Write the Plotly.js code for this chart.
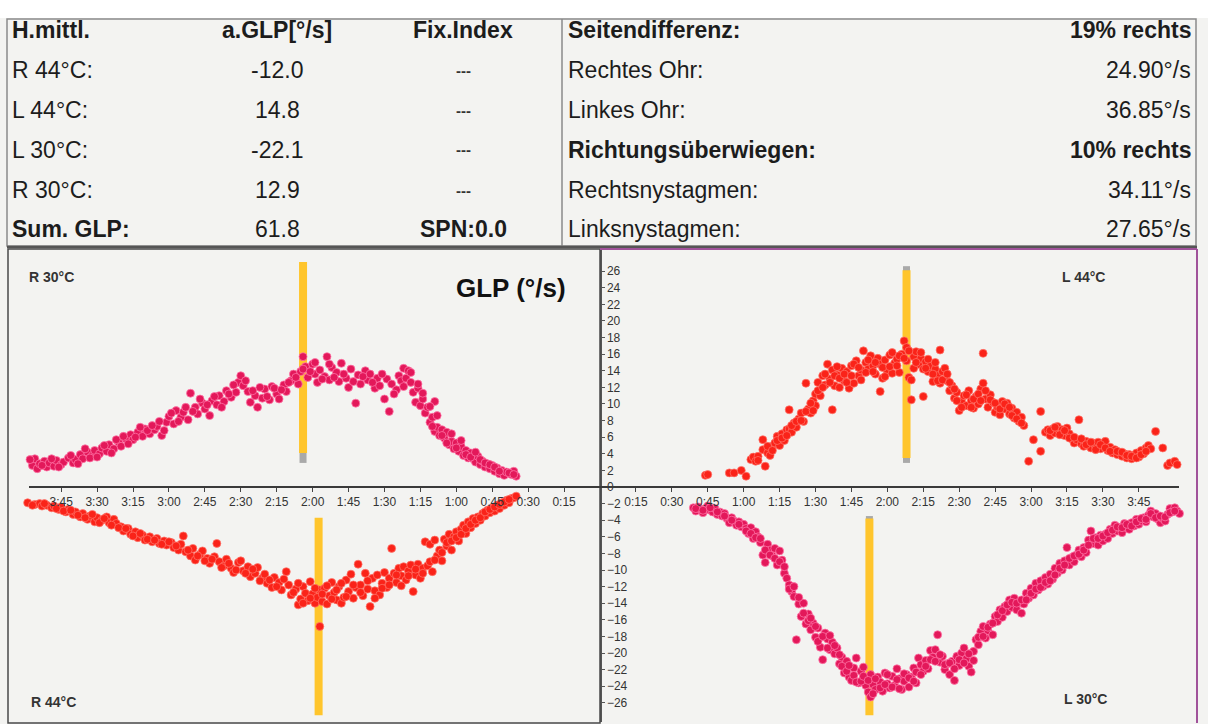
<!DOCTYPE html>
<html>
<head>
<meta charset="utf-8">
<script src="https://cdn.plot.ly/plotly-3.0.1.min.js"></script>
<style>
html,body{margin:0;padding:0;background:#f3f3f1;}
#chart{width:1208px;height:724px;}
</style>
</head>
<body>
<div id="chart"></div>
<script>
// ---------------- DATA ----------------
// Table (left block)
const leftCol1 = ["H.mittl.", "R 44°C:", "L 44°C:", "L 30°C:", "R 30°C:", "Sum. GLP:"];
const leftCol2 = ["a.GLP[°/s]", "-12.0", "14.8", "-22.1", "12.9", "61.8"];
const leftCol3 = ["Fix.Index", "---", "---", "---", "---", "SPN:0.0"];
// Table (right block)
const rightCol1 = ["Seitendifferenz:", "Rechtes Ohr:", "Linkes Ohr:", "Richtungsüberwiegen:", "Rechtsnystagmen:", "Linksnystagmen:"];
const rightCol2 = ["19% rechts", "24.90°/s", "36.85°/s", "10% rechts", "34.11°/s", "27.65°/s"];

// Axis ticks (time in seconds)
const xTickVals = [15, 30, 45, 60, 75, 90, 105, 120, 135, 150, 165, 180, 195, 210, 225];
const xTickText = ["0:15", "0:30", "0:45", "1:00", "1:15", "1:30", "1:45", "2:00", "2:15", "2:30", "2:45", "3:00", "3:15", "3:30", "3:45"];
const yTickVals = [-26, -24, -22, -20, -18, -16, -14, -12, -10, -8, -6, -4, -2, 0, 2, 4, 6, 8, 10, 12, 14, 16, 18, 20, 22, 24, 26];

// Panel labels
const panelNames = ["R 30°C", "L 44°C", "R 44°C", "L 30°C"];

// Fixation markers: time (s), top value, bottom value  [R30, R44, L44, L30]
const fixTime = [124, 117.5, 128, 112.5];
const fixTop = [27.1, -3.7, 26.1, -3.8];
const fixBottom = [4.1, -27.5, 3.5, -27.5];

// Slow-phase velocity points [time s, GLP °/s]
const r30Points = [[237,2.6],[236,3.4],[235,2.2],[234,2.8],[232,3.1],[231,2.4],[230,2.9],[228,2.5],[227,3.2],[225,2.7],[224,3.0],[222,3.5],[220,2.9],[219,3.3],[217,3.9],[216,3.4],[214,4.2],[212,3.8],[211,4.4],[209,4.0],[208,4.7],[206,4.3],[205,5.1],[203,4.6],[201,5.4],[200,4.9],[198,5.8],[196,6.3],[195,5.7],[193,6.6],[191,6.1],[190,7.0],[188,6.4],[186,6.9],[185,7.3],[183,6.2],[181,7.8],[180,8.5],[178,7.6],[177,9.2],[175,8.4],[174,9.0],[172,8.1],[171,11.3],[169,9.6],[168,8.8],[166,10.1],[165,9.4],[163,8.6],[162,10.4],[160,9.9],[159,11.0],[157,10.3],[156,11.6],[154,10.8],[152,11.4],[151,12.6],[150,13.4],[149,12.2],[147,11.5],[146,10.2],[144,11.0],[143,9.6],[141,10.7],[140,11.8],[138,10.5],[137,12.1],[135,11.2],[134,10.6],[132,12.3],[131,11.5],[129,12.8],[128,13.6],[126,12.4],[125,13.9],[124,15.7],[123,14.5],[122,13.2],[120,14.8],[119,13.6],[118,12.6],[117,14.1],[115,13.3],[114,15.7],[113,12.9],[112,14.4],[110,13.8],[109,12.7],[108,14.9],[106,13.1],[105,12.0],[104,14.2],[102,10.1],[101,13.5],[100,12.4],[98,14.0],[97,12.9],[96,13.6],[94,11.9],[93,13.1],[92,12.2],[90,10.6],[89,13.0],[88,9.1],[87,12.4],[85,11.7],[84,13.4],[83,12.8],[82,14.3],[81,13.1],[80,14.0],[79,12.6],[78,11.4],[77,10.2],[76,11.9],[75,9.8],[74,10.6],[73,8.9],[72,9.6],[71,7.8],[70,8.4],[69,6.7],[69,10.3],[68,7.2],[67,6.2],[66,6.9],[65,5.9],[64,6.6],[63,5.1],[62,5.5],[61,4.6],[60,5.3],[59,4.3],[58,4.9],[57,3.8],[56,4.4],[55,3.5],[54,4.1],[53,3.4],[52,3.0],[51,3.7],[50,2.7],[49,3.1],[48,2.4],[47,2.8],[46,2.2],[45,2.6],[44,1.9],[43,2.3],[42,1.6],[41,2.0],[40,1.4],[39,1.8],[37,1.5],[36,1.9],[35,1.3]];
const r30More = [[238,3.3],[233,2.6],[229,3.4],[226,2.4],[221,3.8],[218,2.8],[215,4.6],[213,3.5],[210,3.6],[207,5.0],[204,4.1],[202,5.7],[199,6.1],[197,5.2],[194,6.0],[192,7.2],[189,6.8],[187,7.4],[184,7.9],[182,6.8],[179,8.9],[176,7.9],[173,9.6],[170,9.1],[167,10.6],[164,9.9],[161,10.9],[158,9.6],[155,11.2],[153,12.3],[148,12.8],[145,11.6],[142,12.0],[139,10.9],[136,11.9],[133,11.7],[130,12.6],[127,13.2],[124,14.2],[121,13.9],[119,15.0],[116,13.0],[113,14.8],[111,13.2],[107,13.6],[103,12.7],[99,13.3],[95,12.6],[91,13.6],[86,11.2],[82,12.1],[79,13.8],[76,12.4],[74,11.3],[71,9.7],[70,7.3],[68,8.6],[66,6.2],[64,5.3],[62,6.4],[60,4.7],[58,5.6],[56,3.9],[54,3.6],[52,4.2],[50,3.3],[48,2.9],[46,2.7],[44,2.4],[42,1.9],[38,1.7],[36,1.5]];

const r44Points = [[239,-1.9],[236,-2.1],[234,-2.0],[233,-2.3],[231,-2.2],[229,-2.5],[228,-2.3],[226,-2.7],[225,-2.4],[223,-3.0],[222,-2.7],[220,-3.3],[219,-3.0],[217,-3.6],[216,-3.2],[214,-3.9],[213,-3.5],[211,-4.2],[210,-3.7],[208,-4.0],[206,-3.6],[205,-4.3],[203,-3.9],[202,-4.4],[200,-4.8],[199,-5.3],[197,-5.0],[196,-5.7],[194,-5.4],[193,-6.1],[191,-5.8],[190,-6.4],[188,-6.0],[187,-6.6],[185,-6.2],[184,-6.8],[182,-6.5],[181,-7.0],[179,-6.7],[178,-7.3],[176,-7.6],[175,-6.9],[174,-5.9],[173,-7.8],[171,-8.3],[170,-7.4],[169,-8.8],[167,-8.1],[166,-7.7],[164,-8.6],[163,-9.2],[161,-8.4],[160,-6.8],[159,-9.0],[157,-9.5],[156,-8.7],[154,-9.8],[153,-10.3],[151,-9.1],[150,-8.9],[149,-10.1],[147,-9.6],[146,-10.8],[144,-10.4],[143,-9.7],[141,-11.0],[140,-10.5],[139,-11.6],[137,-12.1],[136,-10.9],[134,-11.5],[133,-12.4],[131,-10.2],[130,-11.8],[129,-13.0],[127,-12.3],[126,-14.2],[125,-13.5],[124,-12.0],[123,-12.8],[122,-13.7],[121,-11.4],[120,-12.9],[119,-14.0],[118,-13.3],[117,-16.8],[117,-12.4],[116,-13.8],[115,-12.2],[114,-14.1],[113,-13.1],[112,-11.5],[111,-12.7],[110,-13.6],[109,-12.0],[108,-14.0],[107,-13.3],[106,-11.2],[105,-12.6],[104,-10.5],[103,-13.4],[102,-12.1],[101,-9.3],[100,-11.8],[99,-13.1],[98,-10.4],[97,-12.3],[96,-14.4],[95,-11.0],[94,-12.5],[93,-10.6],[92,-13.0],[91,-11.6],[90,-10.3],[89,-12.1],[88,-11.0],[87,-7.4],[86,-10.4],[85,-11.5],[84,-9.8],[83,-10.7],[82,-9.6],[81,-11.2],[80,-10.1],[79,-9.4],[78,-12.6],[77,-10.6],[76,-9.3],[75,-11.0],[74,-9.8],[73,-6.6],[72,-9.5],[71,-6.9],[70,-10.2],[69,-6.4],[68,-8.3],[67,-7.6],[66,-8.9],[65,-6.3],[64,-7.1],[63,-5.7],[62,-7.6],[61,-6.0],[60,-5.4],[59,-6.5],[58,-5.1],[57,-4.6],[56,-5.6],[55,-4.2],[54,-4.9],[53,-3.8],[52,-4.4],[51,-3.6],[50,-4.0],[49,-3.2],[48,-3.5],[47,-2.8],[46,-3.1],[45,-2.5],[44,-2.9],[43,-2.2],[42,-2.6],[41,-1.9],[40,-2.2],[39,-1.6],[38,-1.9],[37,-1.4],[36,-1.3],[35,-1.1]];
const r44More = [[237,-2.2],[232,-2.0],[227,-2.6],[224,-2.9],[221,-2.8],[218,-3.4],[215,-3.7],[212,-3.3],[209,-4.3],[207,-3.8],[204,-4.6],[201,-4.9],[198,-5.0],[195,-5.9],[192,-5.6],[189,-6.3],[186,-6.4],[183,-6.9],[180,-6.6],[177,-7.1],[172,-7.6],[168,-8.3],[165,-8.9],[162,-8.7],[158,-9.7],[155,-9.2],[152,-10.0],[148,-10.4],[145,-9.9],[142,-11.3],[138,-11.2],[135,-12.0],[132,-11.1],[128,-12.7],[126,-11.6],[124,-14.0],[121,-13.4],[119,-12.2],[116,-12.9],[114,-11.9],[112,-13.5],[110,-12.4],[108,-11.6],[106,-13.2],[103,-11.8],[100,-12.7],[97,-11.3],[94,-13.4],[91,-12.2],[88,-11.8],[85,-10.6],[83,-11.9],[80,-10.7],[77,-9.9],[74,-10.4],[71,-9.0],[69,-8.8],[66,-7.9],[64,-6.7],[62,-6.5],[60,-6.1],[58,-5.7],[56,-5.0],[54,-4.5],[52,-4.0],[50,-3.7],[48,-3.0],[46,-2.7],[44,-2.4],[42,-2.1],[40,-1.8],[38,-1.5]];

const l44Points = [[44,1.4],[45,1.5],[54,1.7],[56,1.7],[59,2.0],[61,1.3],[63,3.3],[64,3.6],[65,3.1],[66,3.7],[68,5.7],[68,4.5],[69,2.5],[70,4.1],[71,3.8],[72,4.9],[73,5.3],[74,6.1],[75,5.0],[76,6.4],[77,5.6],[78,6.9],[79,9.3],[79,7.0],[80,6.6],[81,7.7],[82,7.2],[83,8.2],[84,8.9],[85,7.9],[86,12.5],[87,9.4],[88,8.9],[89,10.4],[90,9.8],[90,11.2],[91,12.6],[92,11.0],[93,13.4],[94,12.3],[95,14.8],[96,13.0],[97,9.3],[97,14.1],[98,12.2],[99,13.5],[100,12.0],[101,14.3],[102,12.8],[103,13.9],[104,11.9],[105,14.6],[106,12.5],[107,15.2],[108,13.4],[109,14.1],[110,16.4],[111,15.0],[112,14.2],[113,15.8],[114,14.6],[115,13.6],[116,15.5],[117,11.5],[117,14.8],[118,13.1],[119,15.3],[120,14.0],[121,15.9],[122,13.7],[123,14.9],[124,15.4],[125,13.8],[126,16.0],[127,17.6],[128,16.8],[128,15.2],[129,13.2],[130,10.5],[130,12.9],[131,15.7],[132,16.3],[133,14.8],[134,15.5],[135,10.9],[135,14.2],[136,15.1],[137,13.9],[138,14.6],[139,12.7],[140,14.2],[141,13.4],[142,16.5],[142,12.5],[143,13.9],[144,14.3],[145,12.8],[146,11.6],[147,12.2],[148,10.7],[149,11.4],[150,9.2],[151,10.3],[152,11.0],[153,9.8],[154,11.6],[155,10.4],[156,9.5],[157,10.9],[158,10.0],[159,11.8],[160,16.1],[160,12.5],[161,10.6],[162,9.6],[163,11.1],[164,10.2],[165,9.0],[166,9.6],[167,8.7],[168,10.3],[169,9.4],[170,10.1],[171,8.8],[172,9.5],[173,8.3],[174,9.0],[175,7.9],[176,8.4],[177,7.4],[179,3.1],[181,5.7],[184,9.1],[184,4.3],[186,6.6],[187,6.9],[188,6.2],[189,7.0],[190,6.5],[191,7.3],[192,6.7],[193,6.9],[194,6.2],[195,7.1],[196,6.4],[197,5.8],[198,5.3],[199,5.7],[200,8.1],[201,5.2],[202,4.9],[203,5.5],[204,5.0],[205,4.7],[206,5.3],[207,4.8],[208,5.4],[209,4.6],[210,5.1],[211,5.5],[212,4.4],[213,4.8],[214,4.1],[215,4.5],[216,3.9],[217,4.2],[218,3.7],[219,4.0],[220,3.5],[221,3.9],[222,3.4],[223,3.8],[224,4.1],[225,3.6],[226,4.4],[227,4.0],[228,4.7],[229,5.0],[230,4.6],[232,6.7],[235,4.7],[237,2.6],[238,2.9],[240,3.1],[241,2.7]];
const l44More = [[66,3.2],[70,4.9],[72,4.4],[74,5.6],[76,5.9],[78,6.2],[80,7.4],[82,7.9],[84,8.0],[86,9.1],[88,10.1],[89,9.2],[91,11.6],[93,12.0],[94,13.6],[96,12.6],[98,13.4],[99,14.5],[100,13.1],[102,13.6],[103,12.6],[105,13.4],[106,14.8],[108,14.4],[109,12.9],[111,13.8],[112,15.3],[114,13.9],[115,15.0],[118,14.4],[119,13.3],[121,14.5],[122,16.2],[124,14.6],[125,15.8],[127,15.5],[129,16.4],[131,14.3],[132,15.0],[134,16.2],[136,14.3],[137,15.4],[139,13.6],[140,15.0],[141,12.8],[143,12.9],[145,13.6],[146,12.6],[148,11.8],[149,10.4],[151,9.6],[153,11.1],[155,9.6],[156,10.6],[158,11.2],[159,10.4],[161,11.6],[163,10.5],[165,10.1],[167,9.4],[169,10.0],[171,9.6],[172,8.6],[174,8.2],[176,7.7],[188,6.8],[190,7.2],[192,6.3],[194,6.8],[196,5.9],[198,6.0],[201,5.8],[203,5.1],[205,5.4],[207,4.5],[209,5.1],[211,4.7],[213,4.3],[216,4.3],[218,4.2],[220,3.8],[222,3.7],[224,3.5],[226,3.9],[228,4.3]];

const l30Points = [[39,-2.5],[40,-2.9],[41,-2.4],[42,-2.7],[43,-3.1],[44,-2.6],[45,-2.3],[46,-2.8],[47,-3.0],[48,-2.6],[49,-3.3],[50,-3.0],[51,-3.5],[52,-3.2],[53,-3.8],[54,-4.3],[55,-3.7],[56,-4.1],[57,-4.6],[58,-4.2],[59,-4.8],[60,-4.5],[61,-5.0],[62,-5.6],[63,-4.9],[64,-6.2],[65,-5.4],[66,-6.0],[67,-6.7],[68,-8.2],[69,-9.1],[70,-6.9],[71,-7.6],[72,-8.3],[73,-7.4],[74,-9.4],[75,-7.7],[76,-8.8],[77,-10.4],[78,-11.0],[79,-11.8],[80,-12.6],[81,-13.2],[82,-18.4],[83,-14.1],[84,-15.6],[85,-14.0],[86,-16.5],[87,-15.3],[88,-17.2],[89,-16.4],[90,-18.1],[91,-17.0],[92,-19.3],[93,-20.8],[94,-17.6],[95,-18.3],[96,-19.6],[97,-18.7],[98,-20.1],[99,-19.4],[100,-21.3],[101,-20.5],[102,-22.4],[103,-21.0],[104,-22.9],[105,-23.3],[106,-21.8],[107,-20.6],[108,-23.6],[109,-22.2],[110,-21.7],[111,-23.9],[112,-24.7],[113,-25.3],[113,-22.6],[114,-23.8],[115,-24.4],[116,-22.9],[117,-23.5],[118,-24.6],[119,-22.4],[120,-23.7],[121,-24.2],[122,-22.8],[123,-23.9],[124,-21.9],[125,-23.1],[126,-24.4],[127,-23.4],[128,-22.6],[129,-24.1],[130,-22.9],[131,-21.8],[132,-23.6],[133,-20.6],[134,-21.4],[135,-22.2],[136,-20.9],[137,-21.9],[138,-19.7],[139,-20.5],[140,-19.6],[141,-17.8],[142,-21.1],[143,-20.4],[144,-22.0],[145,-21.3],[146,-22.6],[147,-21.0],[148,-23.3],[149,-20.4],[150,-21.5],[151,-20.0],[152,-19.4],[153,-20.7],[154,-21.6],[155,-22.3],[156,-19.8],[157,-18.4],[158,-19.0],[159,-17.4],[160,-16.8],[161,-18.2],[162,-17.3],[163,-16.5],[164,-17.8],[165,-15.6],[166,-16.2],[167,-14.8],[168,-15.7],[169,-14.4],[170,-15.0],[171,-13.6],[172,-14.5],[173,-13.4],[174,-14.8],[175,-13.9],[176,-15.2],[177,-14.1],[178,-12.8],[179,-13.4],[180,-12.2],[181,-13.0],[182,-11.6],[183,-12.4],[184,-11.3],[185,-12.0],[186,-10.9],[187,-11.7],[188,-10.5],[189,-11.1],[190,-9.8],[191,-10.4],[192,-9.2],[193,-10.0],[194,-8.9],[195,-7.3],[196,-9.4],[197,-8.5],[198,-9.0],[199,-8.2],[200,-7.6],[201,-8.4],[202,-7.3],[203,-7.9],[204,-6.4],[205,-5.3],[206,-6.8],[207,-6.1],[208,-7.0],[209,-5.8],[210,-6.5],[211,-5.7],[212,-6.2],[213,-5.1],[214,-5.6],[215,-4.6],[216,-5.3],[217,-4.9],[218,-5.5],[219,-4.4],[220,-4.9],[221,-5.1],[222,-4.3],[223,-4.7],[224,-3.9],[225,-4.5],[226,-4.1],[227,-3.7],[228,-4.2],[229,-3.4],[230,-2.9],[231,-3.6],[232,-3.2],[233,-3.9],[234,-4.3],[235,-3.8],[236,-4.1],[237,-3.3],[238,-2.6],[239,-3.0],[240,-2.5],[241,-2.9],[242,-3.2]];
const l30More = [[40,-2.6],[43,-2.8],[46,-2.5],[49,-3.0],[52,-3.5],[55,-4.0],[58,-4.5],[61,-5.3],[63,-5.6],[65,-6.1],[67,-6.2],[69,-7.6],[71,-8.2],[73,-8.6],[75,-9.0],[77,-9.6],[79,-12.3],[81,-12.0],[83,-13.3],[85,-15.2],[87,-16.1],[88,-15.8],[90,-16.8],[91,-18.6],[93,-18.0],[95,-19.4],[96,-17.9],[98,-19.1],[100,-20.2],[101,-21.6],[103,-22.2],[104,-21.5],[106,-22.7],[107,-23.5],[109,-23.4],[110,-22.8],[112,-23.3],[114,-24.9],[115,-23.1],[117,-24.2],[119,-23.8],[120,-22.6],[122,-24.1],[124,-23.2],[125,-24.3],[127,-22.5],[129,-23.0],[131,-23.4],[132,-22.3],[134,-22.6],[136,-21.6],[138,-20.8],[140,-21.0],[142,-20.2],[144,-21.4],[146,-21.2],[148,-21.9],[150,-20.8],[152,-21.2],[154,-20.1],[156,-20.9],[158,-18.1],[160,-18.0],[162,-16.9],[164,-16.4],[166,-15.4],[168,-14.9],[170,-14.2],[172,-13.9],[174,-14.0],[176,-13.6],[178,-13.6],[180,-12.8],[182,-12.3],[184,-12.1],[186,-11.5],[188,-11.3],[190,-10.6],[192,-9.8],[194,-9.4],[196,-8.6],[198,-8.3],[200,-8.1],[202,-7.6],[204,-7.0],[206,-6.2],[208,-6.2],[210,-5.9],[212,-5.5],[214,-5.2],[216,-4.8],[218,-4.9],[220,-4.5],[222,-4.7],[224,-4.2],[226,-3.8],[228,-3.9],[230,-3.2],[232,-3.7],[234,-3.5],[236,-3.6],[238,-3.1],[240,-2.9]];

// ---------------- LAYOUT HELPERS ----------------
const W = 1208, H = 724;
const PX = v => v / W;
const PY = v => 1 - v / H;
const FONT = "Liberation Sans, Arial, sans-serif";
const TXT = "#1c1c1c";
const C30 = "#e3185a", C30L = "rgba(255,120,170,0.75)";
const C44 = "#fa2319", C44L = "rgba(255,120,110,0.7)";
const YELLOW = "#ffc52c";

function dots(pts, xa, col, lineCol) {
  return {
    type: "scatter", mode: "markers", xaxis: xa, yaxis: "y",
    x: pts.map(p => p[0]), y: pts.map(p => p[1]),
    marker: {size: 8, color: col, line: {width: 1, color: lineCol}},
    hoverinfo: "skip", showlegend: false
  };
}
function bar(i, xa, col, w) {
  return {
    type: "scatter", mode: "lines", xaxis: xa, yaxis: "y",
    x: [fixTime[i], fixTime[i]], y: [fixTop[i], fixBottom[i]],
    line: {color: col, width: w}, hoverinfo: "skip", showlegend: false
  };
}
function barTip(i, xa, y0, y1) {
  return {
    type: "scatter", mode: "lines", xaxis: xa, yaxis: "y",
    x: [fixTime[i], fixTime[i]], y: [y0, y1],
    line: {color: "#a9a9a9", width: 7}, hoverinfo: "skip", showlegend: false
  };
}

const traces = [
  barTip(0, "x", fixBottom[0] - 1.2, fixBottom[0] + 0.5),
  barTip(2, "x2", fixBottom[2] - 0.6, fixBottom[2] + 0.5),
  barTip(2, "x2", fixTop[2] - 0.4, fixTop[2] + 0.5),
  barTip(3, "x2", fixTop[3] + 0.3, fixTop[3] - 0.4),
  bar(0, "x", YELLOW, 8),
  bar(1, "x", YELLOW, 8),
  bar(2, "x2", YELLOW, 8),
  bar(3, "x2", YELLOW, 8),
  dots(r30Points.concat(r30More), "x", C30, C30L),
  dots(r44Points.concat(r44More), "x", C44, C44L),
  dots(l44Points.concat(l44More), "x2", C44, C44L),
  dots(l30Points.concat(l30More), "x2", C30, C30L)
];

// ---------------- ANNOTATIONS ----------------
const ann = [];
const rowY = [30, 70, 110, 150, 190, 229];
function txt(s, x, y, anchor, size, bold, color) {
  ann.push({
    xref: "paper", yref: "paper", x: PX(x), y: PY(y),
    xanchor: anchor, yanchor: "middle", showarrow: false,
    text: bold ? "<b>" + s + "</b>" : s,
    font: {family: FONT, size: size, color: color || TXT}
  });
}
for (let i = 0; i < 6; i++) {
  const b = (i === 0 || i === 5);
  txt(leftCol1[i], 10, rowY[i], "left", 23, b);
  txt(leftCol2[i], 277, rowY[i], "center", 23, i === 0);
  if (i === 0 || i === 5) txt(leftCol3[i], 463, rowY[i], "center", 23, true);
  else txt(leftCol3[i], 463, rowY[i], "center", 15, true, "#333");
  const rb = (i === 0 || i === 3);
  txt(rightCol1[i], 566, rowY[i], "left", 23, rb);
  txt(rightCol2[i], 1193, rowY[i], "right", 23, rb);
}
// panel labels
txt(panelNames[0], 27, 277, "left", 14, true, "#333");
txt(panelNames[1], 1060, 277, "left", 14, true, "#333");
txt(panelNames[2], 29, 702, "left", 14, true, "#333");
txt(panelNames[3], 1062, 699, "left", 14, true, "#333");
txt("GLP (°/s)", 454, 288, "left", 26, true, "#111");

// ---------------- SHAPES ----------------
const shapes = [
  {type: "rect", xref: "paper", yref: "paper", x0: 0, x1: 1, y0: PY(0), y1: PY(18), fillcolor: "#ffffff", line: {width: 0}, layer: "below"},
  {type: "rect", xref: "paper", yref: "paper", x0: PX(7), x1: PX(1196), y0: PY(19), y1: PY(246), line: {color: "#8a8a8a", width: 1.5}},
  {type: "line", xref: "paper", yref: "paper", x0: PX(562), x1: PX(562), y0: PY(19), y1: PY(246), line: {color: "#8a8a8a", width: 1.5}},
  {type: "line", xref: "paper", yref: "paper", x0: PX(7), x1: PX(1197), y0: PY(247), y1: PY(247), line: {color: "#555", width: 2.5}},
  {type: "rect", xref: "paper", yref: "paper", x0: PX(8), x1: PX(600), y0: PY(249), y1: PY(723), line: {color: "#4a4a4a", width: 1.5}},
  {type: "line", xref: "paper", yref: "paper", x0: PX(600), x1: PX(1197), y0: PY(249), y1: PY(249), line: {color: "#a0529a", width: 2}},
  {type: "line", xref: "paper", yref: "paper", x0: PX(1197), x1: PX(1197), y0: PY(249), y1: PY(723), line: {color: "#a0529a", width: 2}},
  {type: "line", xref: "paper", yref: "y", x0: PX(29), x1: PX(1179), y0: 0, y1: 0, line: {color: "#3a3a3a", width: 2}}
];

// ---------------- LAYOUT ----------------
const tickFont = {family: FONT, size: 12, color: "#333"};
const layout = {
  width: W, height: H,
  margin: {l: 0, r: 0, t: 0, b: 0, pad: 0},
  paper_bgcolor: "#f3f3f1", plot_bgcolor: "rgba(0,0,0,0)",
  showlegend: false, hovermode: false,
  xaxis: {
    domain: [PX(8), PX(600)], range: [247.2, 0], anchor: "free", position: PY(487),
    showline: false, showgrid: false, zeroline: false,
    tickmode: "array", tickvals: xTickVals, ticktext: xTickText,
    ticks: "outside", ticklen: 4, tickwidth: 1, tickcolor: "#444", tickfont: tickFont
  },
  xaxis2: {
    domain: [PX(600), PX(1197)], range: [0, 249.3], anchor: "free", position: PY(487),
    showline: false, showgrid: false, zeroline: false,
    tickmode: "array", tickvals: xTickVals, ticktext: xTickText,
    ticks: "outside", ticklen: 4, tickwidth: 1, tickcolor: "#444", tickfont: tickFont
  },
  yaxis: {
    domain: [PY(722), PY(249)], range: [-28.31, 28.67],
    anchor: "free", position: PX(600), side: "right",
    showline: true, linecolor: "#555", linewidth: 1.5,
    showgrid: false, zeroline: false,
    tickmode: "array", tickvals: yTickVals,
    ticks: "outside", ticklen: 3, tickcolor: "#555", tickfont: tickFont
  },
  shapes: shapes,
  annotations: ann
};

Plotly.newPlot("chart", traces, layout, {staticPlot: true, displayModeBar: false});
</script>
</body>
</html>
